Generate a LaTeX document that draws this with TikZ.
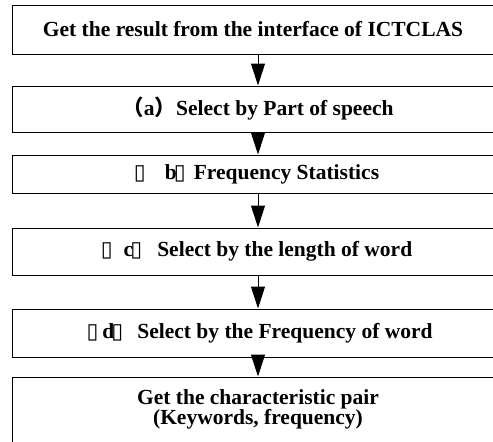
\documentclass[tikz,border=0pt]{standalone}
\usepackage{fontspec}
\setmainfont{Liberation Serif}
\newfontfamily\cjkfont{Noto Sans CJK SC}
\newfontfamily\boxfont{DejaVu Sans}
\usetikzlibrary{arrows.meta}
\newcommand{\gap}{\makebox[6pt][c]{\boxfont\mdseries ▯}}
\begin{document}
\begin{tikzpicture}[x=1pt,y=-1pt,
  box/.style={draw, line width=1pt, minimum width=492pt, inner xsep=0pt, inner ysep=0pt,
    font=\bfseries\fontsize{21.5}{22}\selectfont, align=center},
  flow/.style={-{Triangle[length=22pt,width=14pt]}, line width=1pt}]
\useasboundingbox (0,0) rectangle (493,442);
\clip (0,0) rectangle (493,442);
\fill[white] (0,0) rectangle (493,442);
\node[box, minimum height=49pt] (b1) at (258,29.5) {Get the result from the interface of ICTCLAS\hspace*{10pt}};
\node[box, minimum height=46pt] (b2) at (258,109) {{\cjkfont （}a{\cjkfont ）}Select by Part of speech};
\node[box, minimum height=38pt] (b3) at (258,174) {\gap\hspace{22pt}b\gap\hspace{11pt}Frequency Statistics};
\node[box, minimum height=47pt] (b4) at (258,251.5) {\gap\hspace{14pt}c\gap\hspace{18pt}Select by the length of word};
\node[box, minimum height=48pt] (b5) at (258,333) {\hspace*{6pt}\gap\hspace{7pt}d\gap\hspace{17pt}Select by the Frequency of word};
\node[box, minimum height=90pt, text depth=0pt] (b6) at (258,422) {};
\node[font=\bfseries\fontsize{21.5}{20}\selectfont, align=center, anchor=north, inner sep=0pt] (t6) at (b6.north) [yshift=-13pt] {Get the characteristic pair\\(Keywords, frequency)};
\draw[flow] (b1) -- (b2);
\draw[flow] (b2) -- (b3);
\draw[flow] (b3) -- (b4);
\draw[flow] (b4) -- (b5);
\draw[flow] (b5) -- (b6);
\end{tikzpicture}
\end{document}
